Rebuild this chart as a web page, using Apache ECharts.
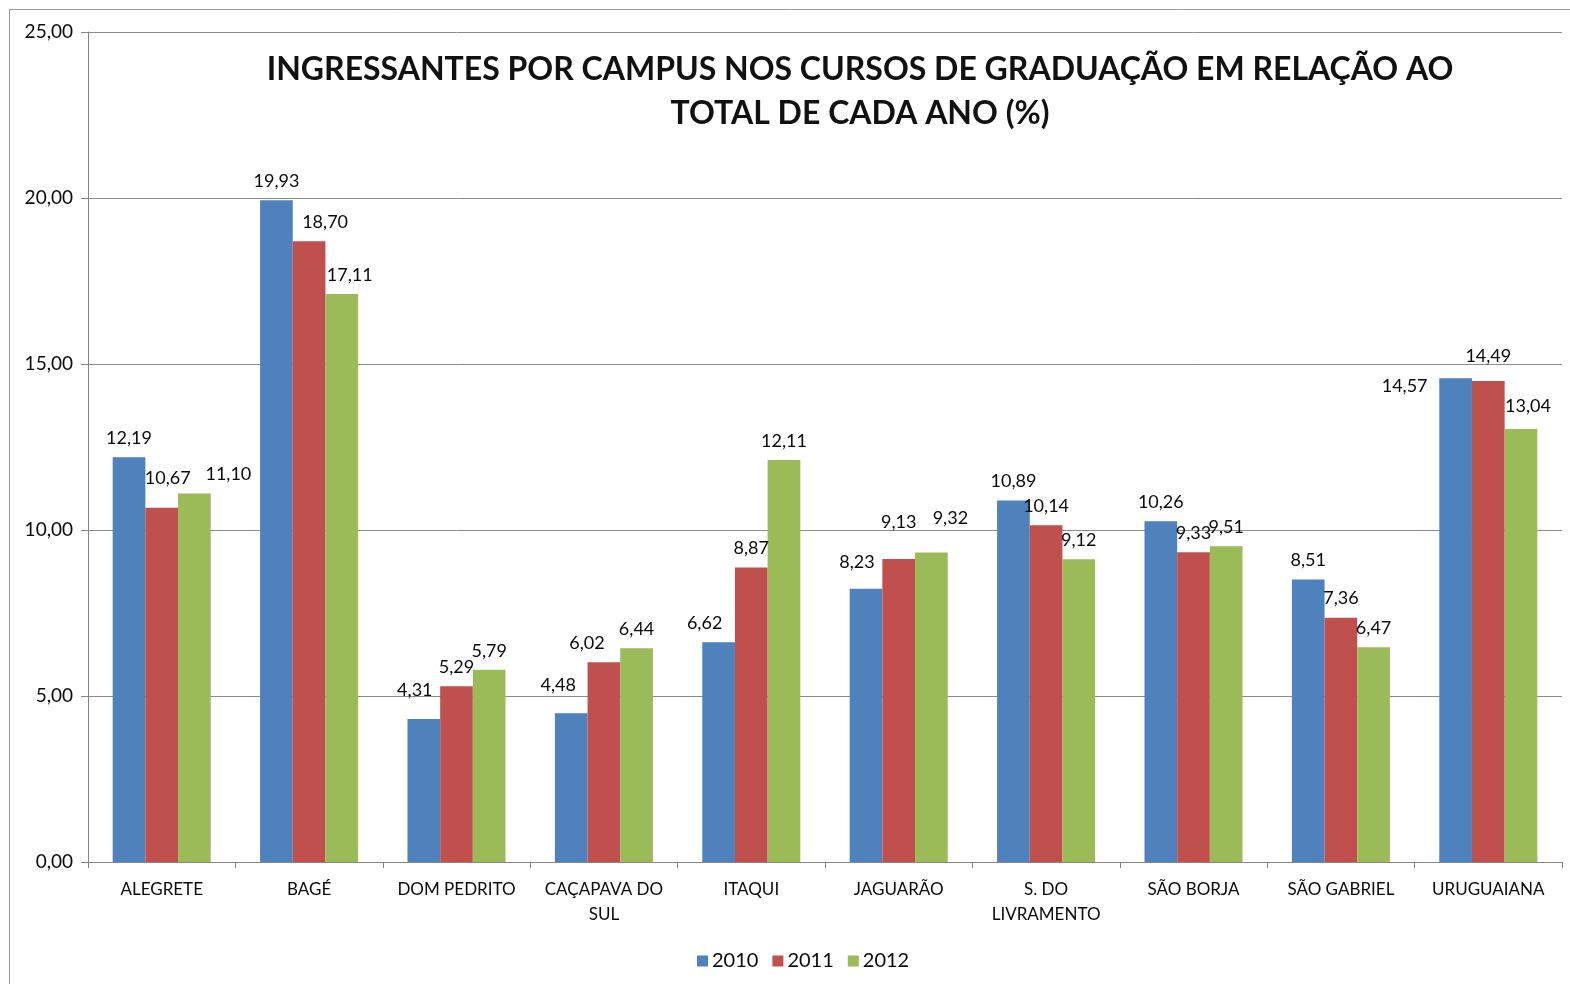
<!DOCTYPE html>
<html>
<head>
<meta charset="utf-8">
<script src="https://cdn.jsdelivr.net/npm/echarts@6/dist/echarts.min.js"></script>
<style>
html,body{margin:0;padding:0;background:#fff;}
#chart{width:1570px;height:984px;}
</style>
</head>
<body>
<div id="chart"></div>
<script>
const categories = ['ALEGRETE', 'BAGÉ', 'DOM PEDRITO', 'CAÇAPAVA DO\nSUL', 'ITAQUI', 'JAGUARÃO', 'S. DO\nLIVRAMENTO', 'SÃO BORJA', 'SÃO GABRIEL', 'URUGUAIANA'];
const seriesNames = ['2010', '2011', '2012'];
const values2010 = [12.19, 19.93, 4.31, 4.48, 6.62, 8.23, 10.89, 10.26, 8.51, 14.57];
const values2011 = [10.67, 18.70, 5.29, 6.02, 8.87, 9.13, 10.14, 9.33, 7.36, 14.49];
const values2012 = [11.10, 17.11, 5.79, 6.44, 12.11, 9.32, 9.12, 9.51, 6.47, 13.04];
const yTicks = { min: 0, max: 25, interval: 5 };
const titleText = 'INGRESSANTES POR CAMPUS NOS CURSOS DE GRADUAÇÃO EM RELAÇÃO AO\nTOTAL DE CADA ANO (%)';

const colors = ['#4F81BD', '#C0504D', '#9BBB59'];
const fmt = v => Number(v).toFixed(2).replace('.', ',');
const labelFont = 'Lato, "Open Sans", sans-serif';

// label nudges mimicking the reference's placement (series index -> category index -> [dx, dy])
const nudges = [
  {2: [-9, -10], 3: [-13, -9], 4: [-14, 0], 5: [-9, -8], 9: [-51, 27]},
  {0: [6, -11], 1: [16, 0], 3: [-17, 0], 5: [0, -18], 9: [0, -6]},
  {0: [34, 0], 1: [8, 0], 5: [19, -15], 9: [7, -4]}
];

const allValues = [values2010, values2011, values2012];
const series = allValues.map((vals, si) => ({
  name: seriesNames[si],
  type: 'bar',
  barGap: '0%',
  barCategoryGap: '33.5%',
  itemStyle: { color: colors[si] },
  label: {
    show: true,
    position: 'top',
    distance: 10,
    color: '#0a0a0a',
    fontFamily: labelFont,
    fontSize: 18,
    formatter: p => fmt(p.value)
  },
  data: vals.map((v, ci) => {
    const n = nudges[si][ci];
    return n ? { value: v, label: { offset: n } } : v;
  })
}));

const chart = echarts.init(document.getElementById('chart'));
chart.setOption({
  animation: false,
  backgroundColor: '#fff',
  graphic: [{
    type: 'rect',
    shape: { x: 9.5, y: 9.5, width: 1600, height: 1000 },
    style: { fill: 'none', stroke: '#9a9a9a', lineWidth: 1 },
    z: -1
  }],
  title: {
    text: titleText,
    left: 855,
    top: 43,
    textAlign: 'center',
    textStyle: {
      fontFamily: 'Lato, sans-serif',
      fontWeight: 'bold',
      fontSize: 32,
      lineHeight: 44,
      color: '#111'
    }
  },
  legend: {
    data: seriesNames,
    left: 692,
    top: 946,
    itemWidth: 11,
    itemHeight: 11,
    itemGap: 14,
    icon: 'rect',
    textStyle: { fontFamily: labelFont, fontSize: 20, color: '#0a0a0a', padding: [0, 0, 0, -1] }
  },
  grid: { left: 88, right: 8, top: 32, bottom: 122 },
  xAxis: {
    type: 'category',
    data: categories,
    axisLine: { show: true, lineStyle: { color: '#868686', width: 1 } },
    axisTick: { show: true, alignWithLabel: false, length: 6, lineStyle: { color: '#868686' } },
    axisLabel: {
      interval: 0,
      margin: 15,
      fontFamily: labelFont,
      fontSize: 17,
      lineHeight: 25,
      color: '#0a0a0a'
    }
  },
  yAxis: {
    type: 'value',
    min: yTicks.min,
    max: yTicks.max,
    interval: yTicks.interval,
    axisLine: { show: true, lineStyle: { color: '#868686', width: 1 } },
    axisTick: { show: true, length: 7, lineStyle: { color: '#868686' } },
    splitLine: { show: true, lineStyle: { color: '#8c8c8c', width: 1 } },
    axisLabel: {
      margin: 15,
      fontFamily: labelFont,
      fontSize: 19,
      color: '#0a0a0a',
      formatter: v => fmt(v)
    }
  },
  series: series
});
</script>
</body>
</html>
